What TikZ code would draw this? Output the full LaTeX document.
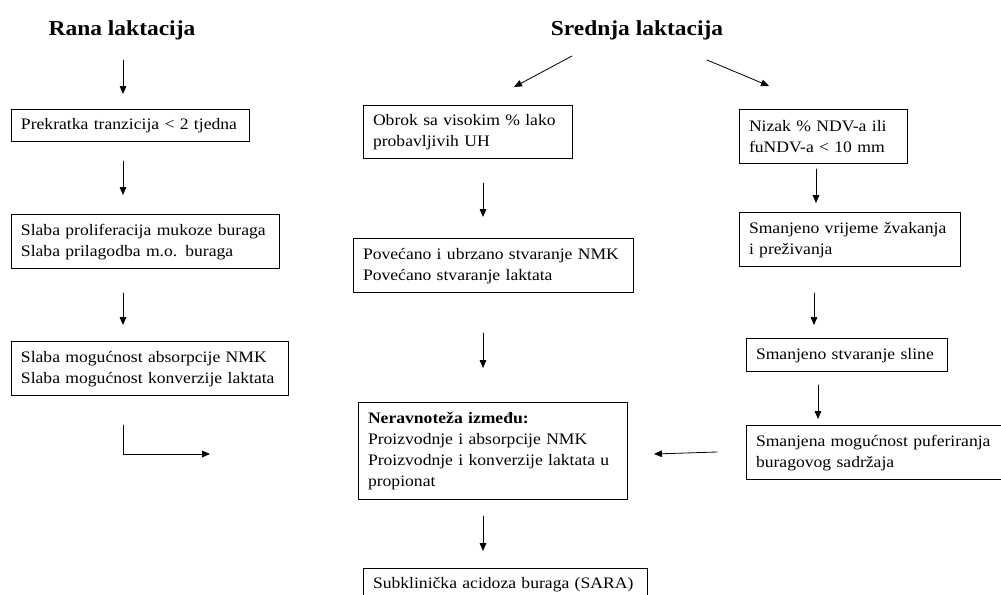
\documentclass[tikz,border=0pt]{standalone}
\usepackage{fontspec}
\setmainfont{Liberation Serif}[FakeStretch=1.1]
\usetikzlibrary{arrows.meta}
\begin{document}
\begin{tikzpicture}[x=0.75pt,y=-0.75pt,font=\fontsize{12}{15.75}\selectfont,line join=round,line cap=round,>={Triangle[length=6pt,width=5pt]},
box/.style 2 args={draw,line width=1pt,anchor=north west,align=left,inner xsep=7pt,inner ysep=2pt,text width=#1,minimum height=#2},
title/.style={anchor=base,font=\fontsize{16}{19}\selectfont\bfseries}]
\useasboundingbox (0,0) rectangle (1001,594);
\node[title] (rana) at (122,35) {Rana laktacija};
\node[title] (srednja) at (637,35) {Srednja laktacija};
% rana laktacija
\node[box={164.5pt}{24pt}] (b1) at (11,109) {Prekratka tranzicija < 2 tjedna};
\node[box={187pt}{40.5pt}] (b2) at (11,214) {Slaba proliferacija mukoze buraga\\Slaba prilagodba m.o. buraga};
\node[box={193.75pt}{40.5pt}] (b3) at (11,341) {Slaba mogućnost absorpcije NMK\\Slaba mogućnost konverzije laktata};
% srednja laktacija
\node[box={142.75pt}{39.75pt}] (m1) at (363,105) {Obrok sa visokim \% lako\\probavljivih UH};
\node[box={196pt}{40.5pt}] (m2) at (353,238) {Povećano i ubrzano stvaranje NMK\\Povećano stvaranje laktata};
\node[box={187.75pt}{72.75pt}] (m3) at (358,402) {\textbf{Neravnoteža između:}\\Proizvodnje i absorpcije NMK\\Proizvodnje i konverzije laktata u\\propionat};
\node[box={199pt}{24pt}] (m4) at (363,568) {Subklinička acidoza buraga (SARA)};
\node[box={112pt}{40.5pt}] (r1) at (739,109) {Nizak \% NDV-a ili\\fuNDV-a < 10 mm};
\node[box={151.75pt}{40.5pt}] (r2) at (739,212) {Smanjeno vrijeme žvakanja\\i preživanja};
\node[box={136.75pt}{24.75pt}] (r3) at (746,338) {Smanjeno stvaranje sline};
\node[box={181pt}{40.5pt}] (r4) at (746,425) {Smanjena mogućnost puferiranja\\buragovog sadržaja};
% strelice
\foreach \x/\y/\t in {123/60/a1,123/94/a2,123/161/a3,123/195/a4,123/293/a5,123/325/a6,123/425/e1,123/454/e2,210/454/e3,
572/56/c1,514/87/c2,483/183/c3,483/217/c4,483/333/c5,483/368/c6,483/516/c7,483/551/c8,
707/60/d1,769/86/d2,816/169/d3,816/203/d4,814/293/d5,814/325/d6,818/385/d7,818/419/d8,717/452/d9,654/454/d10}
\coordinate (\t) at (\x,\y);
\foreach \s/\e in {a1/a2,a3/a4,a5/a6,c1/c2,c3/c4,c5/c6,c7/c8,d1/d2,d3/d4,d5/d6,d7/d8,d9/d10}
\draw[->,line width=0.6pt] (\s)--(\e);
\draw[->,line width=0.6pt] (e1)--(e2)--(e3);
\end{tikzpicture}
\end{document}
